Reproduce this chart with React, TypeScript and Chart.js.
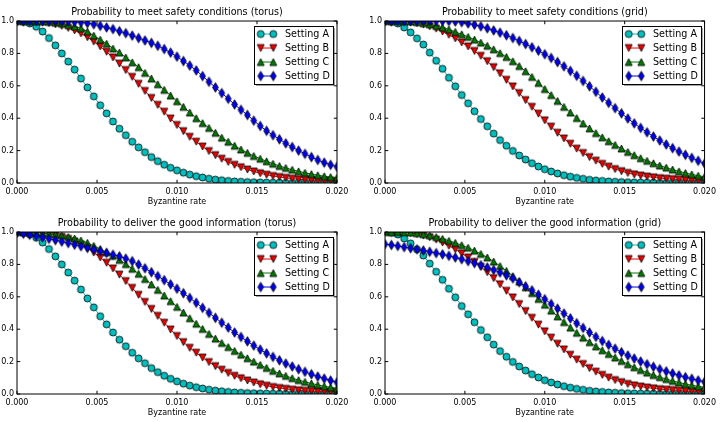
import React, { useEffect, useRef } from "react";
import { Chart, registerables } from "chart.js";

Chart.register(...registerables);

// ---------- data ----------
const BYZANTINE_RATE = [
  0.0, 0.0004, 0.0008, 0.0012, 0.0016, 0.002, 0.0024, 0.0028, 0.0032, 0.0036,
  0.004, 0.0044, 0.0048, 0.0052, 0.0056, 0.006, 0.0064, 0.0068, 0.0072, 0.0076,
  0.008, 0.0084, 0.0088, 0.0092, 0.0096, 0.01, 0.0104, 0.0108, 0.0112, 0.0116,
  0.012, 0.0124, 0.0128, 0.0132, 0.0136, 0.014, 0.0144, 0.0148, 0.0152, 0.0156,
  0.016, 0.0164, 0.0168, 0.0172, 0.0176, 0.018, 0.0184, 0.0188, 0.0192, 0.0196,
  0.02,
];

const SETTING_LABELS = ["Setting A", "Setting B", "Setting C", "Setting D"];
const X_TICKS = [0, 0.005, 0.01, 0.015, 0.02];
const Y_TICKS = [0, 0.2, 0.4, 0.6, 0.8, 1.0];
const PANEL_TITLES = [
  "Probability to meet safety conditions (torus)",
  "Probability to meet safety conditions (grid)",
  "Probability to deliver the good information (torus)",
  "Probability to deliver the good information (grid)",
];
const X_LABEL = "Byzantine rate";

// Safety, torus
const TORUS_SAFETY_A = [
  1.0, 0.995, 0.985, 0.965, 0.935, 0.895, 0.85, 0.8, 0.75, 0.7,
  0.645, 0.59, 0.535, 0.48, 0.43, 0.38, 0.335, 0.295, 0.255, 0.22,
  0.19, 0.16, 0.135, 0.113, 0.094, 0.078, 0.064, 0.052, 0.042, 0.034,
  0.027, 0.021, 0.017, 0.013, 0.01, 0.008, 0.006, 0.005, 0.004, 0.003,
  0.002, 0.002, 0.001, 0.001, 0.001, 0.001, 0.0, 0.0, 0.0, 0.0, 0.0,
];
const TORUS_SAFETY_B = [
  1.0, 1.0, 0.999, 0.997, 0.994, 0.988, 0.98, 0.97, 0.957, 0.942,
  0.923, 0.9, 0.873, 0.843, 0.81, 0.775, 0.737, 0.697, 0.655, 0.612,
  0.568, 0.525, 0.482, 0.44, 0.398, 0.358, 0.32, 0.285, 0.255, 0.225,
  0.197, 0.172, 0.15, 0.13, 0.112, 0.097, 0.083, 0.071, 0.06, 0.051,
  0.043, 0.037, 0.032, 0.027, 0.023, 0.02, 0.018, 0.016, 0.014, 0.013, 0.012,
];
const TORUS_SAFETY_C = [
  1.0, 1.0, 0.999, 0.998, 0.997, 0.995, 0.99, 0.984, 0.975, 0.966,
  0.955, 0.935, 0.91, 0.885, 0.86, 0.83, 0.805, 0.775, 0.745, 0.715,
  0.68, 0.645, 0.61, 0.575, 0.54, 0.505, 0.47, 0.435, 0.4, 0.37,
  0.34, 0.31, 0.28, 0.255, 0.23, 0.207, 0.186, 0.167, 0.15, 0.134,
  0.119, 0.105, 0.093, 0.082, 0.072, 0.063, 0.055, 0.048, 0.042, 0.037, 0.032,
];
const TORUS_SAFETY_D = [
  1.0, 1.0, 1.0, 1.0, 1.0, 1.0, 0.999, 0.998, 0.997, 0.995,
  0.992, 0.987, 0.98, 0.97, 0.96, 0.95, 0.937, 0.925, 0.91, 0.895,
  0.88, 0.865, 0.847, 0.827, 0.805, 0.78, 0.753, 0.725, 0.695, 0.66,
  0.625, 0.59, 0.555, 0.52, 0.485, 0.452, 0.42, 0.385, 0.352, 0.322,
  0.295, 0.27, 0.245, 0.222, 0.2, 0.18, 0.16, 0.142, 0.126, 0.112, 0.1,
];

// Safety, grid
const GRID_SAFETY_A = [
  1.0, 0.995, 0.985, 0.96, 0.93, 0.893, 0.855, 0.805, 0.755, 0.705,
  0.65, 0.597, 0.543, 0.492, 0.443, 0.395, 0.35, 0.305, 0.265, 0.23,
  0.198, 0.17, 0.145, 0.122, 0.102, 0.085, 0.071, 0.059, 0.048, 0.039,
  0.032, 0.026, 0.02, 0.016, 0.013, 0.01, 0.008, 0.006, 0.005, 0.004,
  0.003, 0.002, 0.002, 0.001, 0.001, 0.001, 0.001, 0.0, 0.0, 0.0, 0.0,
];
const GRID_SAFETY_B = [
  1.0, 1.0, 0.999, 0.997, 0.993, 0.987, 0.978, 0.967, 0.953, 0.935,
  0.915, 0.893, 0.868, 0.843, 0.815, 0.785, 0.752, 0.715, 0.677, 0.637,
  0.596, 0.555, 0.512, 0.47, 0.428, 0.387, 0.348, 0.31, 0.275, 0.242,
  0.212, 0.185, 0.16, 0.138, 0.118, 0.101, 0.086, 0.073, 0.062, 0.053,
  0.046, 0.04, 0.035, 0.03, 0.027, 0.024, 0.021, 0.019, 0.017, 0.015, 0.014,
];
const GRID_SAFETY_C = [
  1.0, 1.0, 1.0, 0.999, 0.997, 0.993, 0.987, 0.98, 0.97, 0.96,
  0.948, 0.933, 0.918, 0.902, 0.885, 0.867, 0.847, 0.825, 0.802, 0.778,
  0.752, 0.722, 0.69, 0.655, 0.618, 0.58, 0.543, 0.507, 0.47, 0.435,
  0.401, 0.368, 0.337, 0.308, 0.282, 0.258, 0.235, 0.213, 0.192, 0.172,
  0.153, 0.137, 0.122, 0.108, 0.095, 0.083, 0.072, 0.062, 0.053, 0.045, 0.039,
];
const GRID_SAFETY_D = [
  1.0, 1.0, 1.0, 1.0, 1.0, 1.0, 1.0, 1.0, 1.0, 1.0,
  0.999, 0.997, 0.993, 0.985, 0.977, 0.967, 0.955, 0.942, 0.928, 0.912,
  0.895, 0.877, 0.858, 0.838, 0.817, 0.795, 0.772, 0.747, 0.72, 0.692,
  0.662, 0.63, 0.597, 0.563, 0.528, 0.495, 0.462, 0.43, 0.398, 0.368,
  0.34, 0.313, 0.287, 0.262, 0.238, 0.215, 0.194, 0.174, 0.155, 0.137, 0.12,
];

// Delivery, torus
const TORUS_DELIVER_A = [
  1.0, 0.995, 0.985, 0.965, 0.935, 0.895, 0.85, 0.8, 0.75, 0.7,
  0.645, 0.59, 0.535, 0.48, 0.43, 0.38, 0.335, 0.295, 0.255, 0.22,
  0.19, 0.16, 0.135, 0.113, 0.094, 0.078, 0.064, 0.052, 0.042, 0.034,
  0.027, 0.021, 0.017, 0.013, 0.01, 0.008, 0.006, 0.005, 0.004, 0.003,
  0.002, 0.002, 0.001, 0.001, 0.001, 0.001, 0.0, 0.0, 0.0, 0.0, 0.0,
];
const TORUS_DELIVER_B = [
  1.0, 1.0, 0.999, 0.997, 0.994, 0.988, 0.98, 0.97, 0.957, 0.942,
  0.923, 0.9, 0.873, 0.843, 0.81, 0.775, 0.737, 0.697, 0.655, 0.612,
  0.568, 0.525, 0.482, 0.44, 0.398, 0.358, 0.32, 0.285, 0.255, 0.225,
  0.197, 0.172, 0.15, 0.13, 0.112, 0.097, 0.083, 0.071, 0.06, 0.051,
  0.043, 0.037, 0.032, 0.027, 0.023, 0.02, 0.018, 0.016, 0.014, 0.013, 0.012,
];
const TORUS_DELIVER_C = [
  1.0, 1.0, 0.999, 0.997, 0.994, 0.99, 0.985, 0.978, 0.97, 0.96,
  0.948, 0.933, 0.915, 0.895, 0.875, 0.853, 0.828, 0.802, 0.773, 0.742,
  0.71, 0.677, 0.643, 0.608, 0.573, 0.538, 0.503, 0.468, 0.434, 0.402,
  0.371, 0.342, 0.315, 0.29, 0.266, 0.243, 0.221, 0.2, 0.18, 0.161,
  0.143, 0.127, 0.112, 0.098, 0.086, 0.075, 0.065, 0.056, 0.048, 0.041, 0.035,
];
const TORUS_DELIVER_D = [
  0.995, 0.99, 0.983, 0.975, 0.967, 0.958, 0.95, 0.941, 0.932, 0.922,
  0.912, 0.902, 0.892, 0.882, 0.871, 0.86, 0.85, 0.836, 0.82, 0.799,
  0.776, 0.752, 0.728, 0.703, 0.677, 0.65, 0.622, 0.593, 0.563, 0.532,
  0.501, 0.47, 0.44, 0.41, 0.38, 0.352, 0.325, 0.299, 0.274, 0.251,
  0.229, 0.208, 0.188, 0.17, 0.153, 0.137, 0.122, 0.108, 0.095, 0.083, 0.072,
];

// Delivery, grid
const GRID_DELIVER_A = [
  1.0, 0.995, 0.985, 0.96, 0.93, 0.893, 0.855, 0.805, 0.755, 0.705,
  0.65, 0.597, 0.543, 0.492, 0.443, 0.395, 0.35, 0.305, 0.265, 0.23,
  0.198, 0.17, 0.145, 0.122, 0.102, 0.085, 0.071, 0.059, 0.048, 0.039,
  0.032, 0.026, 0.02, 0.016, 0.013, 0.01, 0.008, 0.006, 0.005, 0.004,
  0.003, 0.002, 0.002, 0.001, 0.001, 0.001, 0.001, 0.0, 0.0, 0.0, 0.0,
];
const GRID_DELIVER_B = [
  1.0, 1.0, 0.999, 0.997, 0.993, 0.987, 0.978, 0.967, 0.953, 0.935,
  0.915, 0.893, 0.868, 0.843, 0.815, 0.785, 0.752, 0.715, 0.677, 0.637,
  0.596, 0.555, 0.512, 0.47, 0.428, 0.387, 0.348, 0.31, 0.275, 0.242,
  0.212, 0.185, 0.16, 0.138, 0.118, 0.101, 0.086, 0.073, 0.062, 0.053,
  0.046, 0.04, 0.035, 0.03, 0.027, 0.024, 0.021, 0.019, 0.017, 0.015, 0.014,
];
const GRID_DELIVER_C = [
  1.0, 1.0, 1.0, 0.999, 0.997, 0.993, 0.987, 0.979, 0.969, 0.958,
  0.946, 0.933, 0.919, 0.903, 0.885, 0.865, 0.843, 0.818, 0.79, 0.76,
  0.728, 0.694, 0.659, 0.623, 0.587, 0.551, 0.515, 0.479, 0.444, 0.41,
  0.378, 0.348, 0.32, 0.294, 0.27, 0.247, 0.225, 0.204, 0.184, 0.165,
  0.148, 0.132, 0.117, 0.104, 0.092, 0.081, 0.071, 0.062, 0.054, 0.047, 0.041,
];
const GRID_DELIVER_D = [
  0.925, 0.92, 0.914, 0.907, 0.9, 0.893, 0.886, 0.878, 0.87, 0.862,
  0.853, 0.843, 0.832, 0.82, 0.808, 0.795, 0.781, 0.766, 0.75, 0.733,
  0.714, 0.69, 0.665, 0.64, 0.613, 0.585, 0.556, 0.527, 0.497, 0.467,
  0.437, 0.408, 0.38, 0.353, 0.327, 0.303, 0.28, 0.258, 0.238, 0.219,
  0.201, 0.184, 0.168, 0.153, 0.14, 0.127, 0.115, 0.104, 0.094, 0.084, 0.075,
];

const PANEL_SERIES = [
  [TORUS_SAFETY_A, TORUS_SAFETY_B, TORUS_SAFETY_C, TORUS_SAFETY_D],
  [GRID_SAFETY_A, GRID_SAFETY_B, GRID_SAFETY_C, GRID_SAFETY_D],
  [TORUS_DELIVER_A, TORUS_DELIVER_B, TORUS_DELIVER_C, TORUS_DELIVER_D],
  [GRID_DELIVER_A, GRID_DELIVER_B, GRID_DELIVER_C, GRID_DELIVER_D],
];

// ---------- styling ----------
const FONT = "'DejaVu Sans', 'Liberation Sans', sans-serif";
const COLORS = ["#00bfbf", "#ee0000", "#007a00", "#0000ee"];
const MARKER_KINDS = ["circle", "triangleDown", "triangleUp", "thinDiamond"];

function makeMarker(kind: string, color: string): HTMLCanvasElement {
  const size = 13;
  const c = document.createElement("canvas");
  c.width = size;
  c.height = size;
  const ctx = c.getContext("2d") as CanvasRenderingContext2D;
  const cx = size / 2;
  const cy = size / 2;
  const s = 3.5;
  ctx.beginPath();
  if (kind === "circle") {
    ctx.arc(cx, cy, s, 0, Math.PI * 2);
  } else if (kind === "triangleDown") {
    ctx.moveTo(cx, cy + s);
    ctx.lineTo(cx - s, cy - s);
    ctx.lineTo(cx + s, cy - s);
  } else if (kind === "triangleUp") {
    ctx.moveTo(cx, cy - s);
    ctx.lineTo(cx - s, cy + s);
    ctx.lineTo(cx + s, cy + s);
  } else {
    const h = 4.8;
    const w = 2.9;
    ctx.moveTo(cx, cy - h);
    ctx.lineTo(cx + w, cy);
    ctx.lineTo(cx, cy + h);
    ctx.lineTo(cx - w, cy);
  }
  ctx.closePath();
  ctx.fillStyle = color;
  ctx.fill();
  ctx.strokeStyle = "#000";
  ctx.lineWidth = 0.8;
  ctx.stroke();
  return c;
}

const framePlugin = {
  id: "mplFrame",
  afterDatasetsDraw(chart: any) {
    const ctx = chart.ctx as CanvasRenderingContext2D;
    const a = chart.chartArea;
    const xs = chart.scales.x;
    const ys = chart.scales.y;
    const tl = 3.2;
    ctx.save();
    ctx.strokeStyle = "#000";
    ctx.lineWidth = 1;
    ctx.strokeRect(a.left, a.top, a.right - a.left, a.bottom - a.top);
    ctx.beginPath();
    for (const v of X_TICKS) {
      const px = xs.getPixelForValue(v);
      ctx.moveTo(px, a.bottom);
      ctx.lineTo(px, a.bottom - tl);
      ctx.moveTo(px, a.top);
      ctx.lineTo(px, a.top + tl);
    }
    for (const v of Y_TICKS) {
      const py = ys.getPixelForValue(v);
      ctx.moveTo(a.left, py);
      ctx.lineTo(a.left + tl, py);
      ctx.moveTo(a.right, py);
      ctx.lineTo(a.right - tl, py);
    }
    ctx.stroke();
    ctx.restore();
  },
};

function makeLegendPlugin(markers: HTMLCanvasElement[]) {
  return {
    id: "boxLegend",
    afterDraw(chart: any) {
      const ctx = chart.ctx as CanvasRenderingContext2D;
      const a = chart.chartArea;
      const w = 79;
      const h = 58;
      const x0 = a.left + 237;
      const y0 = a.top + 5;
      ctx.save();
      ctx.fillStyle = "rgba(77,77,77,0.5)";
      ctx.fillRect(x0 + 2, y0 + 2, w, h);
      ctx.fillStyle = "#fff";
      ctx.fillRect(x0, y0, w, h);
      ctx.strokeStyle = "#000";
      ctx.lineWidth = 1;
      ctx.strokeRect(x0 + 0.5, y0 + 0.5, w, h);
      ctx.font = `9.6px ${FONT}`;
      ctx.textBaseline = "middle";
      ctx.textAlign = "left";
      SETTING_LABELS.forEach((label, i) => {
        const yy = y0 + 8 + i * 14;
        const m1 = x0 + 6.7;
        const m2 = x0 + 19.3;
        ctx.strokeStyle = COLORS[i];
        ctx.lineWidth = 1;
        ctx.beginPath();
        ctx.moveTo(m1, yy);
        ctx.lineTo(m2, yy);
        ctx.stroke();
        const img = markers[i];
        ctx.drawImage(img, m1 - img.width / 2, yy - img.height / 2);
        ctx.drawImage(img, m2 - img.width / 2, yy - img.height / 2);
        ctx.fillStyle = "#000";
        ctx.fillText(label, x0 + 31, yy);
      });
      ctx.restore();
    },
  };
}

type PanelProps = { index: number; leftWidth: number; rightPad: number };

function Panel({ index, leftWidth, rightPad }: PanelProps) {
  const ref = useRef<HTMLCanvasElement | null>(null);
  useEffect(() => {
    const canvas = ref.current;
    if (!canvas) return;
    const markers = COLORS.map((c, i) => makeMarker(MARKER_KINDS[i], c));
    const series = PANEL_SERIES[index];
    const chart = new Chart(canvas, {
      type: "line",
      data: {
        datasets: series.map((vals, i) => ({
          label: SETTING_LABELS[i],
          data: BYZANTINE_RATE.map((x, j) => ({ x, y: vals[j] })),
          borderColor: COLORS[i],
          backgroundColor: COLORS[i],
          borderWidth: 1,
          pointStyle: markers[i] as any,
          pointRadius: 3,
          fill: false,
          tension: 0,
          order: 3 - i,
          clip: 0,
        })),
      },
      options: {
        responsive: false,
        animation: false,
        devicePixelRatio: 1,
        events: [],
        layout: { padding: { left: 0, right: rightPad, top: 0, bottom: 0 } },
        plugins: {
          legend: { display: false },
          tooltip: { enabled: false },
          title: {
            display: true,
            text: PANEL_TITLES[index],
            fullSize: false,
            color: "#000",
            font: { family: FONT, size: 9.6, weight: "normal", lineHeight: 1.2 },
            padding: { top: 7, bottom: 2.5 },
          },
        },
        scales: {
          x: {
            type: "linear",
            min: 0,
            max: 0.02,
            grid: { display: false, drawTicks: false, tickLength: 0 },
            border: { display: false },
            afterBuildTicks: (s: any) => {
              s.ticks = X_TICKS.map((v) => ({ value: v }));
            },
            ticks: {
              color: "#000",
              font: { family: FONT, size: 8 },
              padding: 4,
              maxRotation: 0,
              autoSkip: false,
              callback: (v: any) => Number(v).toFixed(3),
            },
            title: {
              display: true,
              text: X_LABEL,
              color: "#000",
              font: { family: FONT, size: 8, lineHeight: 1.2 },
              padding: { top: 0, bottom: 4.5 },
            },
            afterFit: (s: any) => {
              s.height = 28;
            },
          },
          y: {
            type: "linear",
            min: 0,
            max: 1,
            grid: { display: false, drawTicks: false, tickLength: 0 },
            border: { display: false },
            afterBuildTicks: (s: any) => {
              s.ticks = Y_TICKS.map((v) => ({ value: v }));
            },
            ticks: {
              color: "#000",
              font: { family: FONT, size: 8 },
              padding: 3,
              autoSkip: false,
              callback: (v: any) => Number(v).toFixed(1),
            },
            afterFit: (s: any) => {
              s.width = leftWidth;
            },
          },
        },
      } as any,
      plugins: [framePlugin, makeLegendPlugin(markers)],
    });
    return () => chart.destroy();
  }, [index, leftWidth, rightPad]);
  return <canvas ref={ref} width={360} height={211} style={{ display: "block", width: 360, height: 211 }} />;
}

export default function App() {
  const cells = [
    { index: 0, left: 0, top: 0, leftWidth: 17, rightPad: 23 },
    { index: 1, left: 360, top: 0, leftWidth: 25, rightPad: 15 },
    { index: 2, left: 0, top: 211, leftWidth: 17, rightPad: 23 },
    { index: 3, left: 360, top: 211, leftWidth: 25, rightPad: 15 },
  ];
  return (
    <div style={{ position: "absolute", left: 0, top: 0, width: 720, height: 422, background: "#fff", overflow: "hidden" }}>
      {cells.map((c) => (
        <div key={c.index} style={{ position: "absolute", left: c.left, top: c.top, width: 360, height: 211 }}>
          <Panel index={c.index} leftWidth={c.leftWidth} rightPad={c.rightPad} />
        </div>
      ))}
    </div>
  );
}
